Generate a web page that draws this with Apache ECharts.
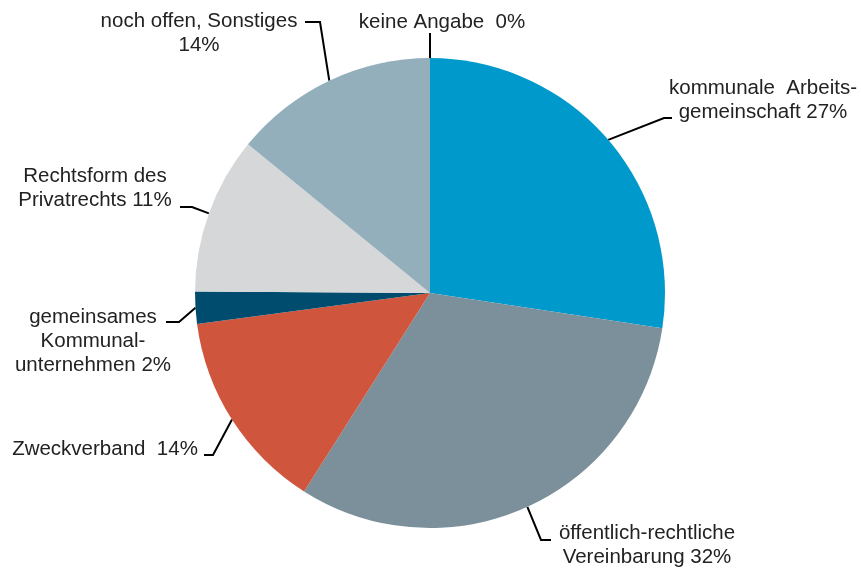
<!DOCTYPE html>
<html>
<head>
<meta charset="utf-8">
<script src="https://cdn.jsdelivr.net/npm/echarts@6/dist/echarts.min.js"></script>
<style>
html,body{margin:0;padding:0;background:#fff;}
#chart{width:861px;height:569px;}
</style>
</head>
<body>
<div id="chart"></div>
<script>
// Data
var categories = [
  "kommunale  Arbeits-\ngemeinschaft",
  "öffentlich-rechtliche\nVereinbarung",
  "Zweckverband ",
  "gemeinsames\nKommunal-\nunternehmen",
  "Rechtsform des\nPrivatrechts",
  "noch offen, Sonstiges\n",
  "keine Angabe "
];
var values = [27.4, 31.6, 13.9, 2.2, 10.8, 14.1, 0];
var percentLabels = ["27%", "32%", "14%", "2%", "11%", "14%", "0%"];
var colors = ["#0099CC", "#7B909A", "#D0553D", "#004C6E", "#D6D7D9", "#94AFBC", "#94AFBC"];

// Label placement (annotation layout only)
var labelPos = [
  {x: 763, y: 100, elbow: [664, 118], end: [672, 118]},
  {x: 647, y: 545, elbow: [541, 540], end: [551, 540]},
  {x: 105, y: 449, elbow: [213, 455], end: [204, 455]},
  {x: 93,  y: 341, elbow: [179, 322], end: [166, 322]},
  {x: 95,  y: 188, elbow: [192, 207], end: [180, 207]},
  {x: 199, y: 33,  elbow: [320, 22],  end: [305, 22]},
  {x: 442, y: 22,  elbow: [430, 35],  end: [430, 33]}
];

var data = categories.map(function (c, i) {
  return {name: c, value: values[i], pct: percentLabels[i], itemStyle: {color: colors[i]}};
});

var chart = echarts.init(document.getElementById('chart'), null, {renderer: 'canvas'});
chart.setOption({
  animation: false,
  backgroundColor: '#fff',
  series: [{
    type: 'pie',
    center: [430, 293],
    radius: [0, 235],
    startAngle: 90,
    clockwise: true,
    avoidLabelOverlap: false,
    stillShowZeroSum: true,
    minAngle: 0,
    data: data,
    itemStyle: {borderWidth: 0},
    emphasis: {disabled: true},
    label: {
      show: true,
      position: 'outside',
      fontFamily: 'Liberation Sans, Arial, sans-serif',
      fontSize: 20.5,
      lineHeight: 24,
      color: '#222222',
      align: 'center',
      formatter: function (p) {
        var n = p.data.name;
        if (n.charAt(n.length - 1) === '\n') return n + p.data.pct;
        return n + ' ' + p.data.pct;
      }
    },
    labelLine: {
      show: true,
      lineStyle: {color: '#000', width: 2},
      smooth: false
    },
    labelLayout: function (params) {
      var i = params.dataIndex;
      var L = labelPos[i];
      var start = params.labelLinePoints ? params.labelLinePoints[0] : L.elbow;
      return {
        x: L.x,
        y: L.y,
        align: 'center',
        verticalAlign: 'middle',
        labelLinePoints: [start, L.elbow, L.end]
      };
    }
  }]
});
</script>
</body>
</html>
